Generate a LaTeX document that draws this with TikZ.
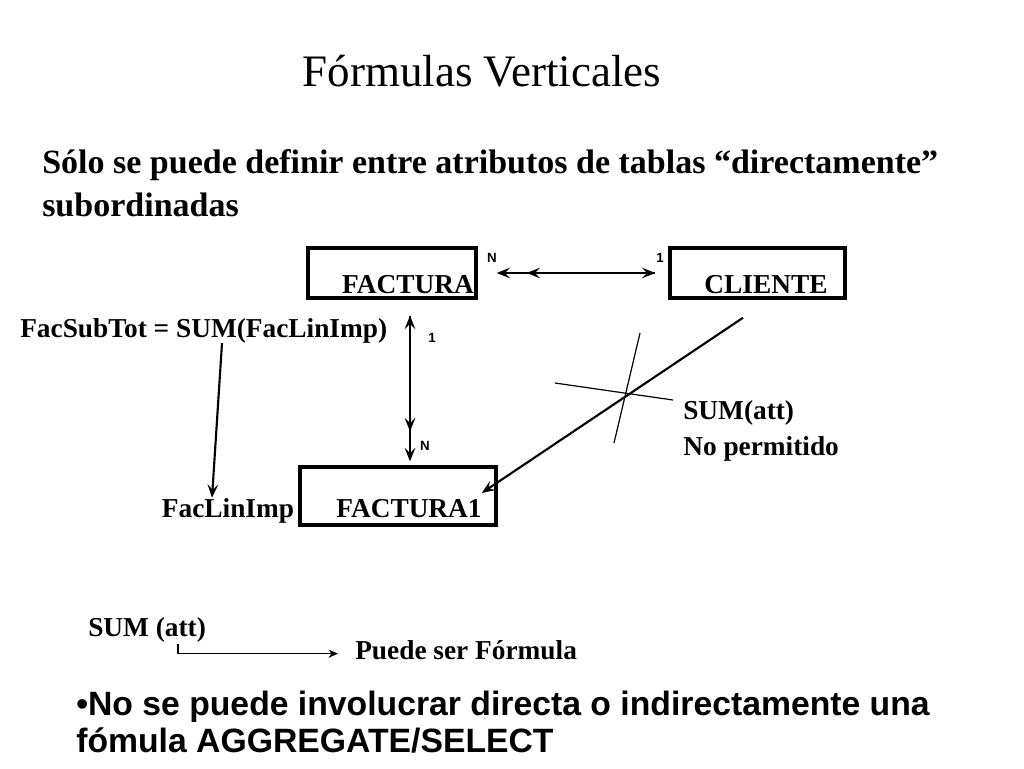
\documentclass[tikz,border=0pt]{standalone}
\usepackage{fontspec}
\setmainfont{Liberation Serif}
\setsansfont{Liberation Sans}
\usetikzlibrary{arrows.meta,calc}
\begin{document}
\begin{tikzpicture}[x=0.75pt,y=-0.75pt,
    tabla/.style={draw,line width=2.6pt,inner sep=0pt},
    txt/.style={inner sep=0pt,font=\bfseries\fontsize{20.5}{24}\selectfont},
    card/.style={inner sep=0pt,font=\sffamily\bfseries\fontsize{10}{12}\selectfont},
    flecha/.style={line width=1.6pt,-{Stealth[length=10pt,width=8pt,inset=4pt]}},
    doble/.style={line width=1.6pt,{Stealth[length=10pt,width=8pt,inset=4pt]}-{Stealth[length=10pt,width=8pt,inset=4pt]}},
    punta/.style={line width=1.6pt,{Stealth[length=10pt,width=8pt,inset=4pt]}-}]
    \useasboundingbox[fill=white] (0,0) rectangle (1024,768);
    % titulo
    \node[inner sep=0pt,anchor=base,font=\fontsize{33.75}{40}\selectfont] (titulo) at (482,86) {Fórmulas Verticales};
    \node[txt,anchor=base west,font=\bfseries\fontsize{25.5}{30}\selectfont] (sub1) at (42,173) {Sólo se puede definir entre atributos de tablas “directamente”};
    \node[txt,anchor=base west,font=\bfseries\fontsize{25.5}{30}\selectfont] (sub2) at (42,216) {subordinadas};
    % tablas
    \node[tabla,minimum width=126pt,minimum height=37.5pt] (factura) at (392,273) {};
    \node[tabla,minimum width=131.25pt,minimum height=37.5pt] (cliente) at (757.5,273) {};
    \node[tabla,minimum width=147pt,minimum height=43.5pt] (factura1) at (398,496) {};
    \node[txt,anchor=base] (lfactura) at (408,293) {FACTURA};
    \node[txt,anchor=base] (lcliente) at (766,293) {CLIENTE};
    \node[txt,anchor=base] (lfactura1) at (409,517) {FACTURA1};
    \node[txt,anchor=base] (faclinimp) at (228,517) {FacLinImp};
    \node[txt,anchor=base west] (formula) at (20,337) {FacSubTot = SUM(FacLinImp)};
    % cardinalidades
    \node[card] (n1) at (492,258) {N}; \node[card] (u1) at (660,258) {1};
    \node[card] (u2) at (432,338) {1}; \node[card] (n2) at (425,446) {N};
    \coordinate (h1) at ($(factura.east)+(19,0)$); \coordinate (h2) at ($(cliente.west)+(-13,0)$);
    \draw[doble] (h1) -- (h2); \draw[punta] ($(h1)+(30,0)$) -- (h2);
    \coordinate (v1) at ($(factura1.north)+(12,-4)$); \coordinate (v2) at ($(factura.south)+(18,16)$);
    \draw[doble] (v1) -- (v2); \draw[punta] ($(v1)+(0,-30)$) -- (v2);
    \draw[flecha] ($(formula.south west)+(202,0)$) -- ($(faclinimp.north)+(-16,0)$);
    % no permitido
    \draw[flecha] ($(cliente.south)+(-14.5,18)$) -- ($(factura1.east)+(-16,-3)$);
    \coordinate (cruce) at (626,394);
    \draw[line width=0.9pt] ($(cruce)+(-71,-11)$) -- ($(cruce)+(47,6)$);
    \draw[line width=0.9pt] ($(cruce)+(14,-61)$) -- ($(cruce)+(-12,49)$);
    \node[txt,anchor=base west] (sumatt) at (683,419) {SUM(att)};
    \node[txt,anchor=base west] (noperm) at (683,455) {No permitido};
    % puede ser formula
    \node[txt,anchor=base west] (sumatt2) at (88,636) {SUM (att)};
    \node[txt,anchor=base west] (puede) at (355,659) {Puede ser Fórmula};
    \coordinate (pfin) at ($(puede.west)+(-17,4)$);
    \draw[line width=1pt,-{Stealth[length=7pt,width=6pt,inset=2pt]}] ($(sumatt2.south west)+(90,2)$) |- (pfin);
    % nota
    \node[inner sep=0pt,anchor=base west,font=\sffamily\bfseries\fontsize{25.3}{30}\selectfont] (nota1) at (76,715) {•No se puede involucrar directa o indirectamente una};
    \node[inner sep=0pt,anchor=base west,font=\sffamily\bfseries\fontsize{25.3}{30}\selectfont] (nota2) at (76,752) {fómula AGGREGATE/SELECT};
\end{tikzpicture}
\end{document}
